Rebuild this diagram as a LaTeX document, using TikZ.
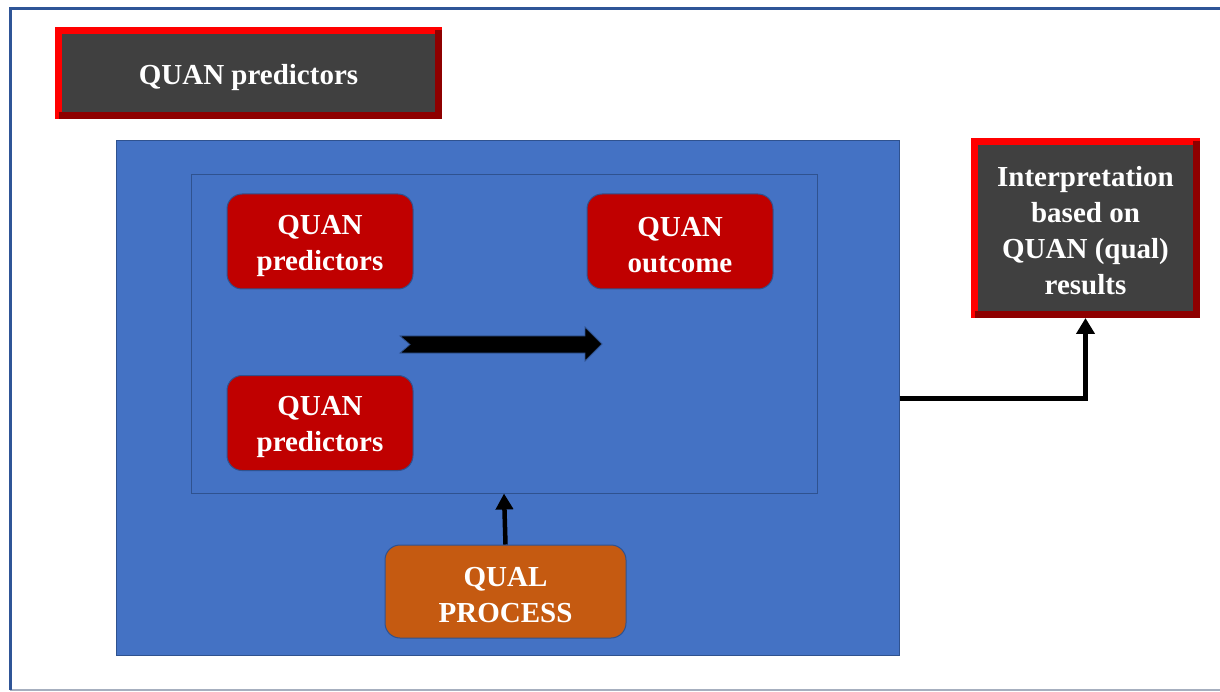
\documentclass[tikz,border=0pt]{standalone}
\usepackage{fontspec}
\setmainfont{Liberation Serif}
\usetikzlibrary{arrows.meta,calc}
\definecolor{frameblue}{HTML}{2F5597}
\definecolor{framegray}{HTML}{A6AFBF}
\definecolor{bigblue}{HTML}{4472C4}
\definecolor{edgeblue}{HTML}{2F528F}
\definecolor{quanred}{HTML}{C00000}
\definecolor{qualorange}{HTML}{C55A11}
\definecolor{darkbox}{HTML}{404040}
\definecolor{bevred}{HTML}{FF0000}
\definecolor{beveldark}{HTML}{8E0000}
\tikzset{
  labeltext/.style={text=white, font=\fontsize{29}{36}\selectfont\bfseries, align=center, yshift=-4pt},
  bevelbox/.style={fill=darkbox, draw=bevred, line width=7pt, inner sep=0pt, outer sep=0pt},
  roundbox/.style={rounded corners=15pt, draw=edgeblue, line width=1pt, inner sep=0pt, minimum width=186pt, minimum height=95pt},
  conn/.style={line width=4.5pt, -{Triangle[length=16pt,width=17pt]}},
}
\begin{document}
\begin{tikzpicture}[x=1pt,y=-1pt]
\useasboundingbox (0,0) rectangle (1220,692);
% outer frame
\draw[framegray, line width=2pt] (10,690) -- (1220,690);
\draw[frameblue, line width=3pt] (10,690) -- (10,9) -- (1220,9);
% top box
\node[bevelbox, minimum width=380pt, minimum height=85pt] (top) at (248.5,73) {};
\draw[beveldark, line width=7pt] (top.south west) -- (top.south east) -- (top.north east);
\node[labeltext, yshift=-1pt] (toplabel) at (top.center) {QUAN predictors};
% big blue rectangle
\node[fill=bigblue, draw=edgeblue, line width=1pt, minimum width=783pt, minimum height=514pt, inner sep=0pt] (big) at (507.5,398) {};
\node[draw=edgeblue, line width=1pt, minimum width=626pt, minimum height=318pt, inner sep=0pt] (inner) at (504,334) {};
% red boxes
\node[roundbox, fill=quanred] (pred1) at (320,241.5) {};
\node[labeltext] (pred1label) at (pred1.center) {QUAN\\predictors};
\node[roundbox, fill=quanred] (outc) at (680,241.5) {};
\node[labeltext] (outclabel) at (outc.center) {QUAN\\outcome};
\node[roundbox, fill=quanred] (pred2) at (320,423) {};
\node[labeltext] (pred2label) at (pred2.center) {QUAN\\predictors};
% notched arrow
\filldraw[fill=black, draw=edgeblue, line width=0.8pt] (400,336) -- (585,336) -- (585,327) -- (602,344) -- (585,361) -- (585,353) -- (400,353) -- (410,344.5) -- cycle;
% qual process
\node[roundbox, fill=qualorange, minimum width=241pt, minimum height=93pt] (qual) at (505.5,591.5) {};
\node[labeltext] (quallabel) at (qual.center) {QUAL\\PROCESS};
\draw[conn] (qual.north) -- (inner.south);
% interpretation box
\node[bevelbox, minimum width=222pt, minimum height=173pt] (interp) at (1085.5,228) {};
\draw[beveldark, line width=7pt] (interp.south west) -- (interp.south east) -- (interp.north east);
\node[labeltext, yshift=1pt] (interplabel) at (interp.center) {Interpretation\\based on\\QUAN (qual)\\results};
\coordinate (interpin) at ($(interp.south)+(0,3.5)$);
\draw[line width=5pt, -{Triangle[length=16pt,width=18pt]}] (big.east) -| (interpin);
\end{tikzpicture}
\end{document}
